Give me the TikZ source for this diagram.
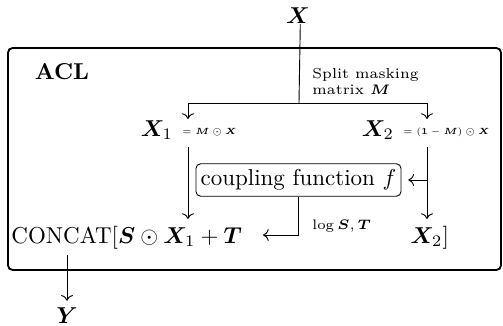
\documentclass[tikz,border=0pt]{standalone}
\usepackage{bm}
\usepackage{graphicx}
\usetikzlibrary{arrows.meta}
\begin{document}
\begin{tikzpicture}[x=0.435pt,y=-0.435pt,>=To,
  every node/.style={inner sep=0pt},
  frame/.style={draw,line width=0.8pt,rounded corners=2pt},
  cfbox/.style={draw,rounded corners=2pt,inner xsep=2pt,inner ysep=2.5pt},
  smalllab/.style={font=\fontsize{6.3}{7.2}\selectfont,anchor=west,align=left},
  eqlab/.style={font=\tiny,anchor=west}]
\useasboundingbox (0,0) rectangle (503,326);
\draw[frame] (8,48) rectangle (501,270);
\node (X) at (298,16) {$\bm{X}$};
\node[font=\bfseries] (acl) at (62,72) {ACL};
\coordinate (split) at (299,103);
\coordinate (b1) at (188,119);
\coordinate (b2) at (427,119);
\draw (X.south) ++(1pt,0) coordinate (xs) (xs) -- (split);
\draw[->] (split) -| (b1);
\draw[->] (split) -| (b2);
\node[smalllab,anchor=north west] (splitlab) at (312,68) {Split masking\\[-0.5pt]matrix $\bm{M}$};
\node (X1) at (157,130) {$\bm{X}_1$};
\node[eqlab] (X1eq) at (182,132) {\scalebox{0.78}{$=\bm{M}\odot\bm{X}$}};
\node (X2) at (378,130) {$\bm{X}_2$};
\node[eqlab] (X2eq) at (403,132) {\scalebox{0.78}{$=(\bm{1}-\bm{M})\odot\bm{X}$}};
\node[cfbox] (cf) at (298.5,180) {coupling function $f$};
\coordinate (c1s) at (188,147);
\coordinate (c1e) at (188,219);
\coordinate (c2s) at (427,147);
\coordinate (c2e) at (427,219);
\coordinate (j) at (427,180);
\draw[->] (c1s) -- (c1e);
\draw[->] (c2s) -- (c2e);
\draw[->,shorten >=3pt] (j) -- (cf.east);
\coordinate (st) at (263,235);
\draw[->] (cf.south) |- (st);
\node[smalllab] (logst) at (312,226) {$\log\bm{S},\bm{T}$};
\node[anchor=base west] (cc) at (11,243) {CONCAT$[\bm{S}\odot\bm{X}_1+\bm{T}$};
\node[anchor=base west] (x2b) at (410,243) {$\bm{X}_2]$};
\node (Y) at (67,316) {$\bm{Y}$};
\coordinate (ys) at (67,255);
\draw[->,shorten >=3pt] (ys) -- (Y);
\end{tikzpicture}
\end{document}
